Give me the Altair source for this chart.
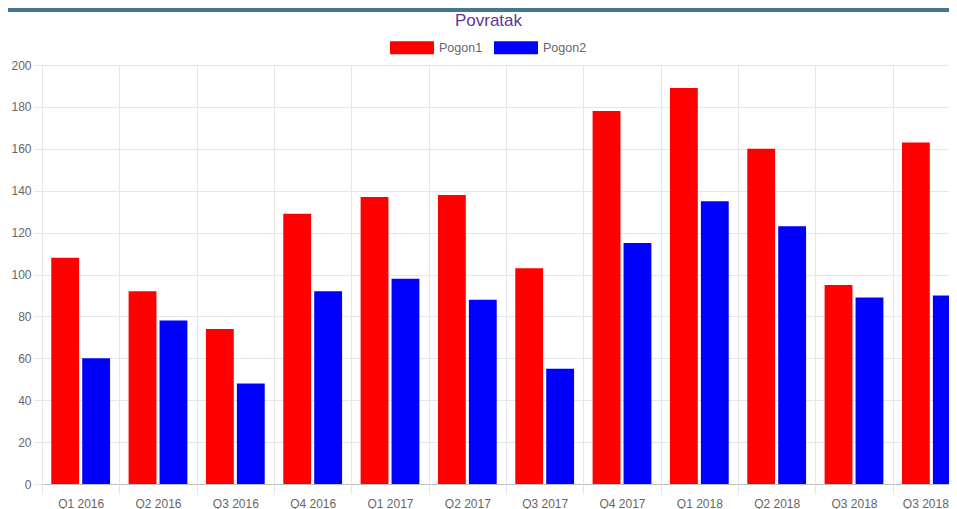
import altair as alt
import pandas as pd

categories = ["Q1 2016", "Q2 2016", "Q3 2016", "Q4 2016", "Q1 2017", "Q2 2017",
              "Q3 2017", "Q4 2017", "Q1 2018", "Q2 2018", "Q3 2018", "Q3 2018"]
pogon1 = [108, 92, 74, 129, 137, 138, 103, 178, 189, 160, 95, 163]
pogon2 = [60, 78, 48, 92, 98, 88, 55, 115, 135, 123, 89, 90]
series = ["Pogon1", "Pogon2"]
colors = ["#ff0000", "#0000ff"]

rows = []
for i, c in enumerate(categories):
    rows.append({"idx": i, "cat": c, "series": "Pogon1", "value": pogon1[i]})
    rows.append({"idx": i, "cat": c, "series": "Pogon2", "value": pogon2[i]})
df = pd.DataFrame(rows)

W, H = 907, 419
label_expr = "[" + ",".join("'%s'" % c for c in categories) + "][datum.value]"
FONT = "Liberation Sans"
last = len(categories) - 1

bars = alt.Chart(df).mark_bar(clip=True).encode(
    x=alt.X("idx:O", sort=list(range(len(categories))),
            scale=alt.Scale(range=[0, 928], paddingInner=0, paddingOuter=0),
            axis=alt.Axis(title=None, labelExpr=label_expr, labelAngle=0,
                          domain=False, grid=True, gridColor="#e6e6e6",
                          tickBand="extent", tickColor="#e6e6e6", tickSize=10,
                          labelPadding=4, labelFont=FONT, labelFontSize=12,
                          labelColor="#666666",
                          labelOffset={"condition": {"test": "datum.value === %d" % last, "value": -6},
                                       "value": 0})),
    xOffset=alt.XOffset("series:N", scale=alt.Scale(paddingInner=0.1, paddingOuter=0.3)),
    y=alt.Y("value:Q", scale=alt.Scale(domain=[0, 200], nice=False),
            axis=alt.Axis(title=None, values=list(range(0, 201, 20)), domain=False,
                          gridColor={"condition": {"test": "datum.value === 0", "value": "#bfbfbf"},
                                     "value": "#e6e6e6"},
                          tickColor="#e6e6e6", tickSize=8, labelPadding=3,
                          labelFont=FONT, labelFontSize=12, labelColor="#666666")),
    color=alt.Color("series:N", scale=alt.Scale(domain=series, range=colors),
                    legend=alt.Legend(title=None, orient="none", direction="horizontal",
                                      legendX=348, legendY=-39.5,
                                      symbolType="M-1,-0.295H1V0.295H-1Z", symbolSize=1936,
                                      symbolStrokeWidth=0, symbolOpacity=1,
                                      labelFont=FONT, labelFontSize=12.5, labelColor="#666666",
                                      labelOffset=5, columnPadding=11, padding=0)),
)

topbar = alt.Chart(pd.DataFrame({"a": [0]})).mark_rect(color="#44788f").encode(
    x=alt.value(-34), x2=alt.value(W), y=alt.value(-57), y2=alt.value(-53)
)

chart = alt.layer(topbar, bars).properties(
    width=W, height=H,
    title=alt.TitleParams("Povratak", anchor="middle", fontSize=17, font=FONT,
                          fontWeight="normal", color="#663399", offset=0, dy=22, dx=-7),
    autosize=alt.AutoSizeParams(type="none"),
    padding={"left": 34, "top": 57, "right": 0, "bottom": 28},
).configure_view(stroke=None)

chart.save("out.html", embed_options={"renderer": "svg", "actions": False})
